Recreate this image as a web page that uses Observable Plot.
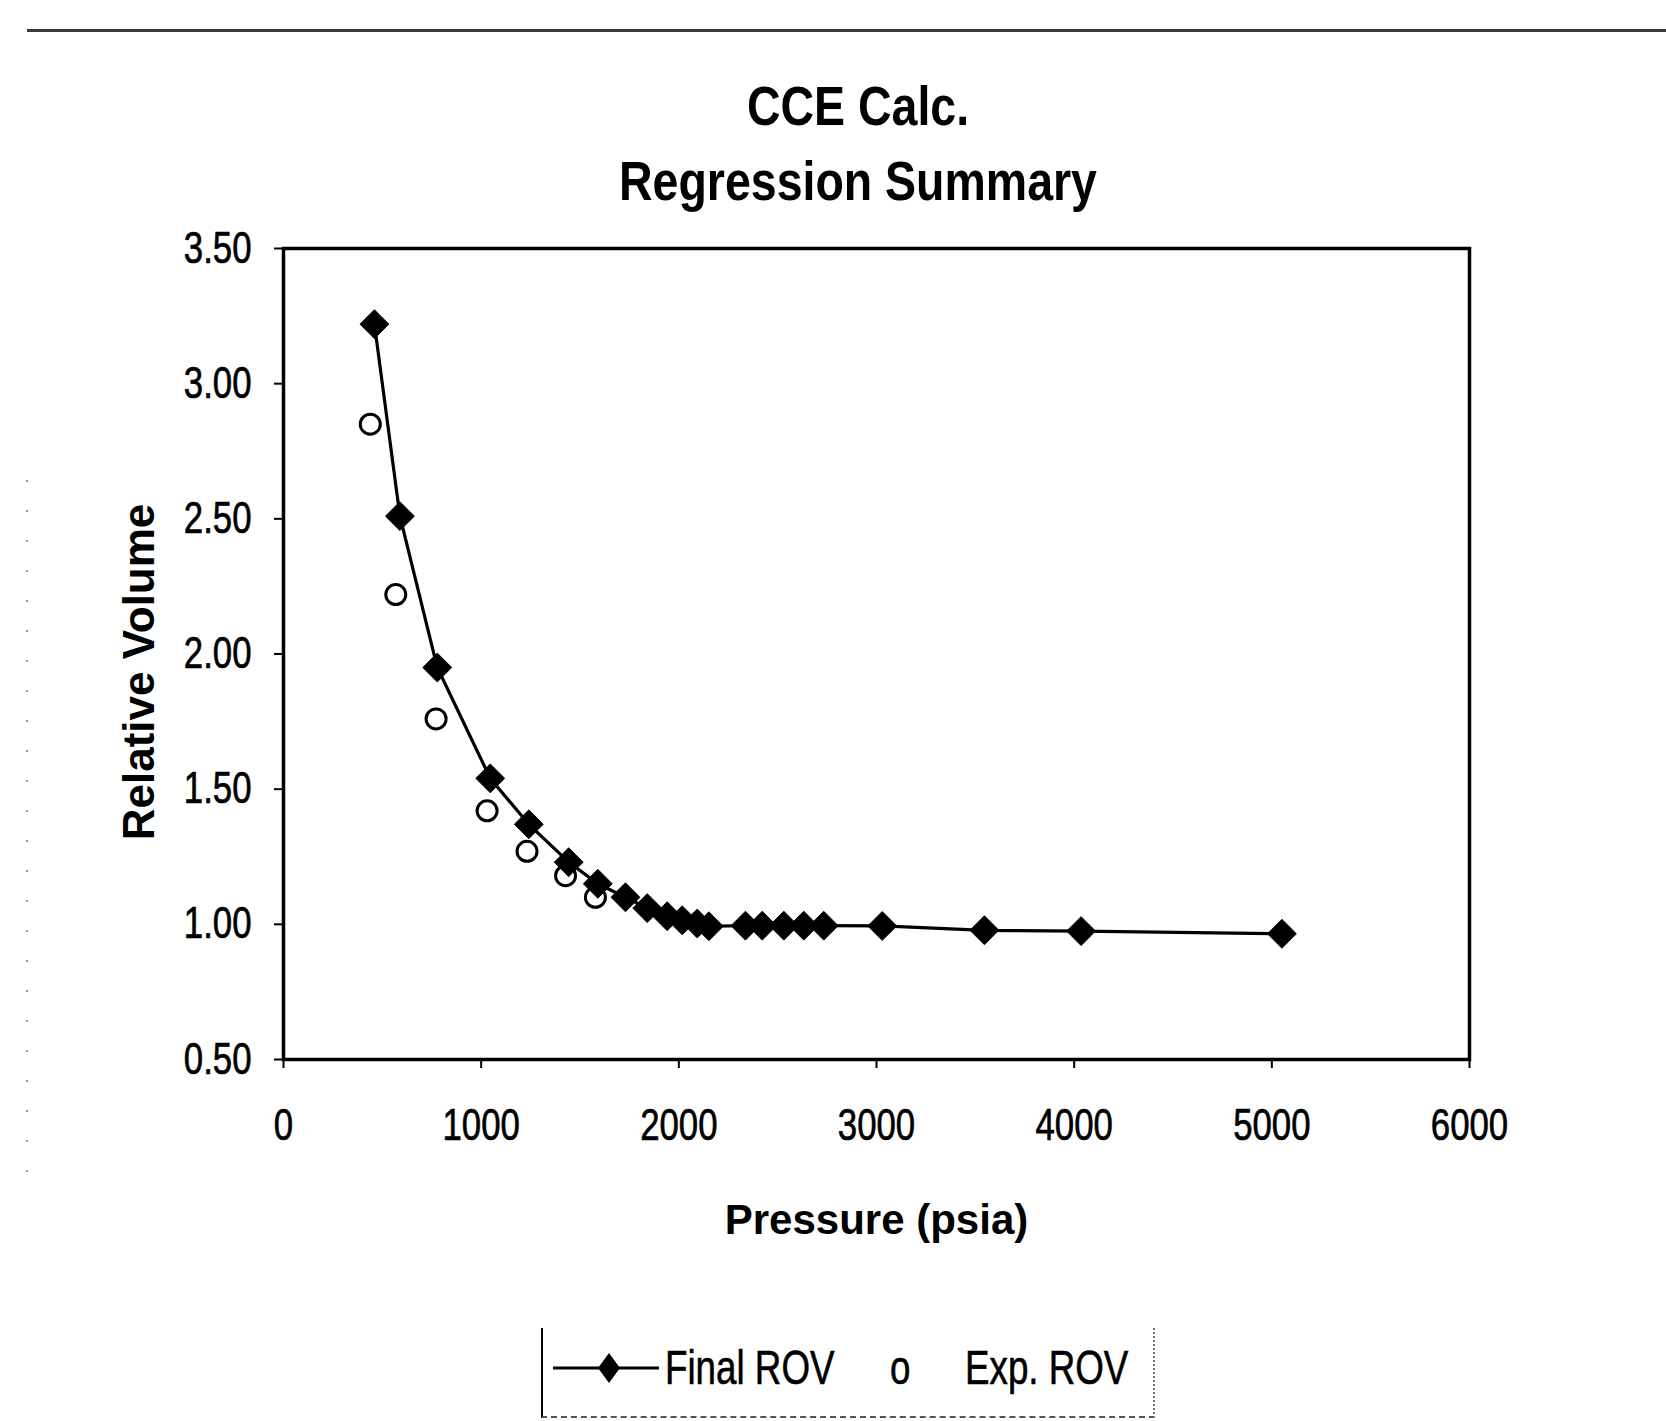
<!DOCTYPE html>
<html>
<head>
<meta charset="utf-8">
<script src="https://cdn.jsdelivr.net/npm/d3@7"></script>
<script src="https://cdn.jsdelivr.net/npm/@observablehq/plot@0.6"></script>
<style>
  html, body { margin: 0; padding: 0; background: #fff; }
  #page { position: relative; width: 1666px; height: 1421px; overflow: hidden; background: #fff;
          font-family: "Liberation Sans", Arial, sans-serif; }
  #header { position: relative; height: 220px; }
  #topline { position: absolute; top: 29px; left: 27px; right: 0; height: 3px; background: #3a3a3a; }
  .title { position: absolute; left: 358px; width: 1000px; text-align: center; font-weight: bold;
           font-size: 56px; line-height: 56px; color: #000; white-space: nowrap;
           transform: scaleX(0.83); transform-origin: 500px 0; }
  #chart svg { display: block; }
  #legendArea { position: relative; height: 141px; }
  #legend { position: absolute; left: 541px; top: 48px; width: 610px; height: 88px;
            border-left: 2px solid #000; border-right: 2px dotted #777; border-bottom: 2px dashed #555; }
  .ltext { position: absolute; top: 15px; font-size: 49px; line-height: 49px; color: #000; white-space: nowrap;
           -webkit-text-stroke: 0.6px #000;
           transform: scaleX(0.75); transform-origin: 0 0; }
  #leftdots { position: absolute; left: 26px; top: 480px; width: 2px; height: 720px;
              background: repeating-linear-gradient(to bottom, #999 0 2px, transparent 2px 30px); }
</style>
</head>
<body>
<div id="page">
  <div id="leftdots"></div>
  <div id="header">
    <div id="topline"></div>
    <div class="title" style="top:78px">CCE Calc.</div>
    <div class="title" style="top:153px">Regression Summary</div>
  </div>
  <div id="chart"></div>
  <div id="legendArea">
    <div id="legend">
      <svg width="130" height="60" style="position:absolute;left:8px;top:10px">
        <line x1="2" y1="30" x2="108" y2="30" stroke="#000" stroke-width="3"></line>
        <path d="M58,15 L69,30 L58,45 L47,30 Z" fill="#000"></path>
      </svg>
      <div class="ltext" style="left:122px">Final ROV</div>
      <div class="ltext" style="left:347px">o</div>
      <div class="ltext" style="left:422px">Exp. ROV</div>
    </div>
  </div>
</div>
<script>
// Final ROV (calculated) series
const pressureFinal = [460, 589, 778, 1046, 1241, 1443, 1590, 1730, 1840, 1941, 2017, 2093, 2152, 2337, 2422, 2531, 2632, 2733, 3029, 3546, 4035, 5051];
const rovFinal      = [3.22, 2.51, 1.95, 1.54, 1.37, 1.23, 1.15, 1.10, 1.06, 1.03, 1.015, 1.003, 0.993, 0.995, 0.995, 0.995, 0.995, 0.995, 0.994, 0.978, 0.975, 0.965];
// Exp. ROV (experimental) series
const pressureExp = [439, 568, 772, 1030, 1232, 1427, 1578];
const rovExp      = [2.85, 2.22, 1.76, 1.42, 1.27, 1.18, 1.10];
// Axis ticks
const xTicks = [0, 1000, 2000, 3000, 4000, 5000, 6000];
const yTicks = [0.5, 1.0, 1.5, 2.0, 2.5, 3.0, 3.5];

const finalData = pressureFinal.map((p, i) => ({p, v: rovFinal[i]}));
const expData = pressureExp.map((p, i) => ({p, v: rovExp[i]}));

const font = '"Liberation Sans", Arial, sans-serif';

const chart = Plot.plot({
  width: 1666,
  height: 1060,
  marginLeft: 283,
  marginRight: 197,
  marginTop: 28,
  marginBottom: 221,
  style: {fontFamily: font, fontSize: "44px", color: "#000", background: "#fff", overflow: "visible"},
  x: {domain: [0, 6000]},
  y: {domain: [0.5, 3.5]},
  marks: [
    Plot.frame({stroke: "#000", strokeWidth: 3.5}),
    Plot.axisY({ticks: yTicks, tickFormat: d => d.toFixed(2), tickSize: 9, tickPadding: 23, strokeWidth: 2, label: null, fontSize: 44}),
    Plot.axisX({ticks: xTicks, tickFormat: d => String(d), tickSize: 9, tickPadding: 40, strokeWidth: 2, label: null, fontSize: 44}),
    Plot.dot(expData, {x: "p", y: "v", r: 10, stroke: "#000", strokeWidth: 3, fill: "none"}),
    Plot.line(finalData, {x: "p", y: "v", stroke: "#000", strokeWidth: 3.2}),
    Plot.dot(finalData, {x: "p", y: "v", symbol: "diamond2", r: 13, fill: "#000", stroke: "#000", strokeWidth: 1}),
    Plot.text(["Pressure (psia)"], {frameAnchor: "bottom", textAnchor: "middle", lineAnchor: "bottom", dy: 174, fontWeight: "bold", fontSize: 42, letterSpacing: "1px"}),
    Plot.text(["Relative Volume"], {frameAnchor: "left", textAnchor: "middle", lineAnchor: "bottom", rotate: -90, dx: -130, dy: 18, fontWeight: "bold", fontSize: 44, letterSpacing: "2px"})
  ]
});
document.getElementById("chart").appendChild(chart);

// narrow the tick-label glyphs to match the condensed face of the original
d3.select(chart).selectAll('g[aria-label="y-axis tick label"] text, g[aria-label="x-axis tick label"] text')
  .attr("transform", function() { return (this.getAttribute("transform") || "") + " scale(0.79,1)"; })
  .attr("stroke", "#000").attr("stroke-width", 0.7);
</script>
</body>
</html>
